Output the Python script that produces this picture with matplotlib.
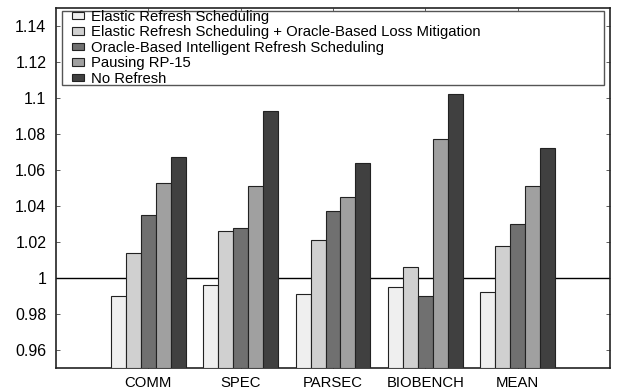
import matplotlib
matplotlib.use("Agg")
import matplotlib.pyplot as plt
import matplotlib.patches as patches
import numpy as np

plt.rcParams['font.family'] = ['Liberation Sans', 'DejaVu Sans']

# benchmark groups and normalised performance per scheme
groups = ["COMM", "SPEC", "PARSEC", "BIOBENCH", "MEAN"]
series_names = [
    "Elastic Refresh Scheduling",
    "Elastic Refresh Scheduling + Oracle-Based Loss Mitigation",
    "Oracle-Based Intelligent Refresh Scheduling",
    "Pausing RP-15",
    "No Refresh",
]
elastic = [0.990, 0.996, 0.991, 0.995, 0.992]
elastic_oracle = [1.014, 1.026, 1.021, 1.006, 1.018]
oracle_intelligent = [1.035, 1.028, 1.037, 0.990, 1.030]
pausing_rp15 = [1.053, 1.051, 1.045, 1.077, 1.051]
no_refresh = [1.067, 1.093, 1.064, 1.102, 1.072]
series = [elastic, elastic_oracle, oracle_intelligent, pausing_rp15, no_refresh]

colors = ["#efefef", "#d0d0d0", "#707070", "#a0a0a0", "#404040"]
y_ticks = [0.96, 0.98, 1.0, 1.02, 1.04, 1.06, 1.08, 1.1, 1.12, 1.14]
y_tick_labels = ["0.96", "0.98", "1", "1.02", "1.04", "1.06", "1.08", "1.1", "1.12", "1.14"]

fig = plt.figure(figsize=(6.18, 3.92), dpi=100)
ax = fig.add_axes([56 / 618, 24 / 392, 554 / 618, 360 / 392])

x = np.arange(1, len(groups) + 1)
bar_w = 0.162
base = 0.95
for i, (vals, name, c) in enumerate(zip(series, series_names, colors)):
    offs = (i - 2) * bar_w
    heights = [v - base for v in vals]
    ax.bar(x + offs, heights, bar_w, bottom=base, color=c,
           edgecolor="#222222", linewidth=0.8, label=name, zorder=3)

# reference line at 1.0, sits behind the bars
ax.axhline(1.0, color="black", linewidth=1.0, zorder=2)

ax.set_xlim(0, 6)
ax.set_ylim(0.95, 1.15)
ax.set_xticks(x)
ax.set_xticklabels(groups, fontsize=10.7)
ax.set_yticks(y_ticks)
ax.set_yticklabels(y_tick_labels, fontsize=11.5)
ax.tick_params(axis="both", direction="in", length=3, width=0.6,
               top=True, right=True, color="#444444")
ax.tick_params(axis="x", pad=6)
ax.tick_params(axis="y", pad=7)
for sp in ax.spines.values():
    sp.set_linewidth(1.2)
    sp.set_color("#222222")

# legend box drawn separately so the entries can be indented inside it
box = patches.Rectangle((0.0108, 0.786), 0.978, 0.2066, transform=ax.transAxes,
                        facecolor="white", edgecolor="#555555", linewidth=1.0,
                        zorder=4)
ax.add_patch(box)
leg = ax.legend(loc="upper left", bbox_to_anchor=(0.0283, 0.995),
                fontsize=10.7, frameon=False,
                handlelength=0.8, handleheight=0.4, handletextpad=0.52,
                labelspacing=0.1, borderpad=0.0, borderaxespad=0.0)
leg.set_zorder(5)

fig.savefig("out.png", dpi=100)
